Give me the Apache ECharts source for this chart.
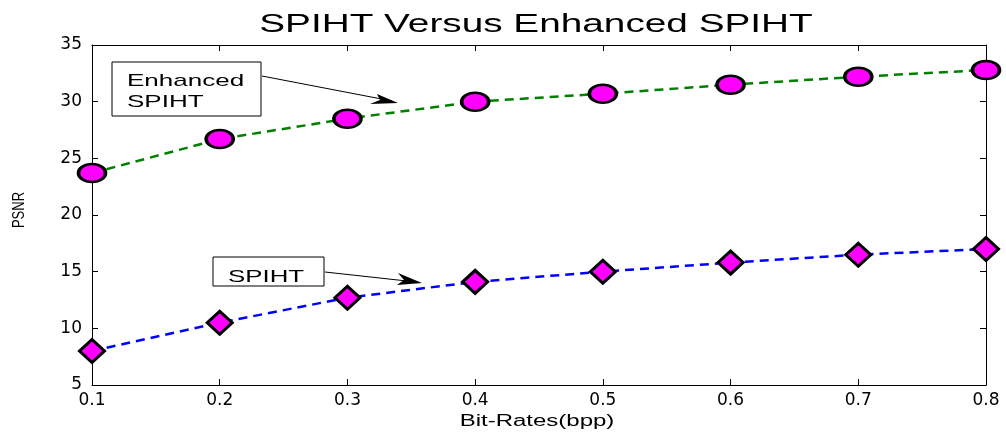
<!DOCTYPE html>
<html><head><meta charset="utf-8">
<script src="https://cdn.jsdelivr.net/npm/echarts@6/dist/echarts.min.js"></script>
<style>html,body{margin:0;padding:0;background:#fff}#c{width:1006px;height:433px}</style>
</head><body><div id="c"></div>
<script>
const categories = ['0.1','0.2','0.3','0.4','0.5','0.6','0.7','0.8'];
const enhancedSpiht = [23.7, 26.7, 28.5, 30.0, 30.7, 31.5, 32.2, 32.8];
const spiht = [8.0, 10.5, 12.7, 14.1, 15.0, 15.8, 16.5, 17.0];
const yTicks = {min: 5, max: 35, interval: 5};
const FONT = '"Liberation Sans", Arial, sans-serif';
const TICKFONT = '"DejaVu Sans", "Liberation Sans", sans-serif';

const chart = echarts.init(document.getElementById('c'));
const axisBase = {
  axisLine: {show: true, lineStyle: {color: '#000', width: 1}},
  axisTick: {show: true, inside: true, length: 6, lineStyle: {color: '#000'}},
  splitLine: {show: false}
};
chart.setOption({
  animation: false,
  backgroundColor: '#fff',
  grid: {left: 92, right: 20, top: 45, bottom: 48, outerBoundsMode: 'none', containLabel: false},
  xAxis: [
    Object.assign({type: 'category', data: categories, boundaryGap: false,
      axisLabel: {fontFamily: TICKFONT, fontSize: 17, color: '#000', margin: 7}}, axisBase),
    Object.assign({type: 'category', data: categories, boundaryGap: false, position: 'top',
      axisLabel: {show: false}}, axisBase)
  ],
  yAxis: [
    Object.assign({type: 'value', min: yTicks.min, max: yTicks.max, interval: yTicks.interval,
      axisLabel: {fontFamily: TICKFONT, fontSize: 17, color: '#000', margin: 10}}, axisBase),
    Object.assign({type: 'value', min: yTicks.min, max: yTicks.max, interval: yTicks.interval,
      position: 'right', axisLabel: {show: false}}, axisBase)
  ],
  series: [
    {name: 'Enhanced SPIHT', type: 'line', data: enhancedSpiht,
      lineStyle: {color: '#008000', width: 2.5, type: [9, 6]},
      symbol: 'circle', symbolSize: [27, 18],
      itemStyle: {color: '#ff00ff', borderColor: '#000', borderWidth: 3}, z: 3},
    {name: 'SPIHT', type: 'line', data: spiht,
      lineStyle: {color: '#0000ff', width: 2.5, type: [9, 6]},
      symbol: 'diamond', symbolSize: [25, 23],
      itemStyle: {color: '#ff00ff', borderColor: '#000', borderWidth: 3}, z: 3}
  ],
  graphic: [
    {type: 'text', x: 536, y: 25, scaleX: 1.55, style: {text: 'SPIHT Versus Enhanced SPIHT', font: '25px ' + FONT, fill: '#000', textAlign: 'center', textVerticalAlign: 'middle'}, z: 11},
    {type: 'text', x: 537, y: 422, scaleX: 1.5, style: {text: 'Bit-Rates(bpp)', font: '16px ' + FONT, fill: '#000', textAlign: 'center', textVerticalAlign: 'middle'}, z: 11},
    {type: 'text', x: 19, y: 210, rotation: Math.PI / 2, scaleY: 1.3, style: {text: 'PSNR', font: '13px ' + FONT, fill: '#000', textAlign: 'center', textVerticalAlign: 'middle'}, z: 11},
    {type: 'rect', shape: {x: 112, y: 62, width: 149, height: 54},
      style: {fill: '#fff', stroke: '#000', lineWidth: 1}, z: 10},
    {type: 'text', x: 127, y: 81, scaleX: 1.53, style: {text: 'Enhanced', font: '17px ' + FONT, fill: '#000', textVerticalAlign: 'middle'}, z: 11},
    {type: 'text', x: 127, y: 102, scaleX: 1.53, style: {text: 'SPIHT', font: '17px ' + FONT, fill: '#000', textVerticalAlign: 'middle'}, z: 11},
    {type: 'line', shape: {x1: 262, y1: 76, x2: 392, y2: 101}, style: {stroke: '#000', lineWidth: 1}, z: 10},
    {type: 'polygon', shape: {points: [[398, 103], [370, 104], [380, 100], [377, 94]]}, style: {fill: '#000'}, z: 10},
    {type: 'rect', shape: {x: 213, y: 257, width: 111, height: 29},
      style: {fill: '#fff', stroke: '#000', lineWidth: 1}, z: 10},
    {type: 'text', x: 228, y: 277, scaleX: 1.52, style: {text: 'SPIHT', font: '17px ' + FONT, fill: '#000', textVerticalAlign: 'middle'}, z: 11},
    {type: 'line', shape: {x1: 325, y1: 272, x2: 416, y2: 282}, style: {stroke: '#000', lineWidth: 1}, z: 10},
    {type: 'polygon', shape: {points: [[422, 283], [397, 285], [404, 280], [398, 273]]}, style: {fill: '#000'}, z: 10}
  ]
});
</script></body></html>
